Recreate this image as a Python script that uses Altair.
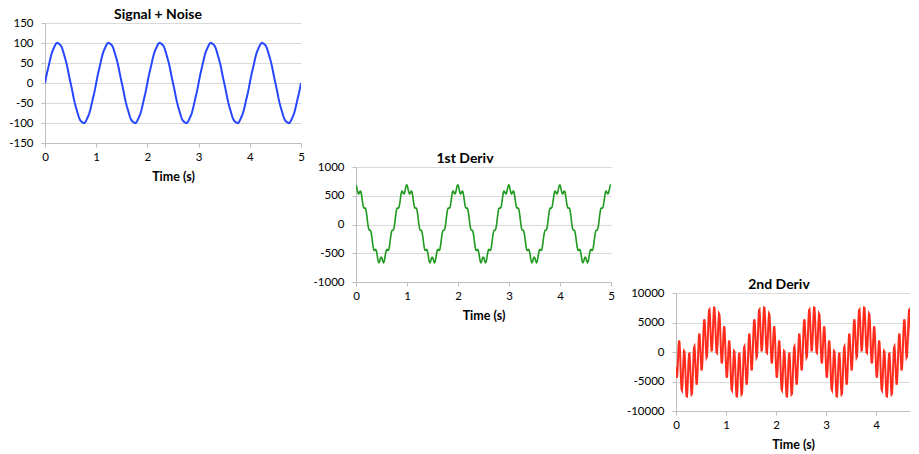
import altair as alt
import numpy as np
import pandas as pd

# ---------------- data ----------------
SIGNAL_DT = 0.02   # s between signal samples
DERIV_DT = 0.01    # s between derivative samples

SIGNAL = [
    0, 13.5, 25.5, 36.2, 47.2, 58.8, 69.4, 77.6, 83.8, 89.5, 95.1, 99.2, 100.4, 99.2, 97.3, 95.1, 91.4, 85.0, 76.5, 67.5, 58.8, 49.1, 37.4, 24.3, 11.6, 0, -11.6, -24.3, -37.4, -49.1, -58.8, -67.5, -76.5, -85.0, -91.4, -95.1, -97.3, -99.2, -100.4, -99.2, -95.1, -89.5, -83.8, -77.6, -69.4, -58.8, -47.2, -36.2, -25.5, -13.5,
    0, 13.5, 25.5, 36.2, 47.2, 58.8, 69.4, 77.6, 83.8, 89.5, 95.1, 99.2, 100.4, 99.2, 97.3, 95.1, 91.4, 85.0, 76.5, 67.5, 58.8, 49.1, 37.4, 24.3, 11.6, 0, -11.6, -24.3, -37.4, -49.1, -58.8, -67.5, -76.5, -85.0, -91.4, -95.1, -97.3, -99.2, -100.4, -99.2, -95.1, -89.5, -83.8, -77.6, -69.4, -58.8, -47.2, -36.2, -25.5, -13.5,
    0, 13.5, 25.5, 36.2, 47.2, 58.8, 69.4, 77.6, 83.8, 89.5, 95.1, 99.2, 100.4, 99.2, 97.3, 95.1, 91.4, 85.0, 76.5, 67.5, 58.8, 49.1, 37.4, 24.3, 11.6, 0, -11.6, -24.3, -37.4, -49.1, -58.8, -67.5, -76.5, -85.0, -91.4, -95.1, -97.3, -99.2, -100.4, -99.2, -95.1, -89.5, -83.8, -77.6, -69.4, -58.8, -47.2, -36.2, -25.5, -13.5,
    0, 13.5, 25.5, 36.2, 47.2, 58.8, 69.4, 77.6, 83.8, 89.5, 95.1, 99.2, 100.4, 99.2, 97.3, 95.1, 91.4, 85.0, 76.5, 67.5, 58.8, 49.1, 37.4, 24.3, 11.6, 0, -11.6, -24.3, -37.4, -49.1, -58.8, -67.5, -76.5, -85.0, -91.4, -95.1, -97.3, -99.2, -100.4, -99.2, -95.1, -89.5, -83.8, -77.6, -69.4, -58.8, -47.2, -36.2, -25.5, -13.5,
    0, 13.5, 25.5, 36.2, 47.2, 58.8, 69.4, 77.6, 83.8, 89.5, 95.1, 99.2, 100.4, 99.2, 97.3, 95.1, 91.4, 85.0, 76.5, 67.5, 58.8, 49.1, 37.4, 24.3, 11.6, 0, -11.6, -24.3, -37.4, -49.1, -58.8, -67.5, -76.5, -85.0, -91.4, -95.1, -97.3, -99.2, -100.4, -99.2, -95.1, -89.5, -83.8, -77.6, -69.4, -58.8, -47.2, -36.2, -25.5, -13.5,
    0,
]

DERIV1 = [
    686.8, 661.8, 620.6, 576.9, 544.6, 532.4, 540.3, 559.8, 577.1, 578.5, 555.3, 507.6, 444.3, 379.2, 326.3, 294.4, 283.5, 285.2, 285.8, 271.6,
    234.1, 173.4, 98.3, 22.8, -39.1, -78.5, -95.4, -98.3, -100.8, -116.5, -154.0, -213.2, -285.2, -356.1, -412.0, -443.9, -451.8, -444.3, -435.0, -437.7,
    -460.9, -504.5, -559.8, -612.9, -650.0, -662.2, -649.5, -620.6, -589.2, -569.2, -569.2, -589.2, -620.6, -649.5, -662.2, -650.0, -612.9, -559.8, -504.5, -460.9,
    -437.7, -435.0, -444.3, -451.8, -443.9, -412.0, -356.1, -285.2, -213.2, -154.0, -116.5, -100.8, -98.3, -95.4, -78.5, -39.1, 22.8, 98.3, 173.4, 234.1,
    271.6, 285.8, 285.2, 283.5, 294.4, 326.3, 379.2, 444.3, 507.6, 555.3, 578.5, 577.1, 559.8, 540.3, 532.4, 544.6, 576.9, 620.6, 661.8, 686.8,
    686.8, 661.8, 620.6, 576.9, 544.6, 532.4, 540.3, 559.8, 577.1, 578.5, 555.3, 507.6, 444.3, 379.2, 326.3, 294.4, 283.5, 285.2, 285.8, 271.6,
    234.1, 173.4, 98.3, 22.8, -39.1, -78.5, -95.4, -98.3, -100.8, -116.5, -154.0, -213.2, -285.2, -356.1, -412.0, -443.9, -451.8, -444.3, -435.0, -437.7,
    -460.9, -504.5, -559.8, -612.9, -650.0, -662.2, -649.5, -620.6, -589.2, -569.2, -569.2, -589.2, -620.6, -649.5, -662.2, -650.0, -612.9, -559.8, -504.5, -460.9,
    -437.7, -435.0, -444.3, -451.8, -443.9, -412.0, -356.1, -285.2, -213.2, -154.0, -116.5, -100.8, -98.3, -95.4, -78.5, -39.1, 22.8, 98.3, 173.4, 234.1,
    271.6, 285.8, 285.2, 283.5, 294.4, 326.3, 379.2, 444.3, 507.6, 555.3, 578.5, 577.1, 559.8, 540.3, 532.4, 544.6, 576.9, 620.6, 661.8, 686.8,
    686.8, 661.8, 620.6, 576.9, 544.6, 532.4, 540.3, 559.8, 577.1, 578.5, 555.3, 507.6, 444.3, 379.2, 326.3, 294.4, 283.5, 285.2, 285.8, 271.6,
    234.1, 173.4, 98.3, 22.8, -39.1, -78.5, -95.4, -98.3, -100.8, -116.5, -154.0, -213.2, -285.2, -356.1, -412.0, -443.9, -451.8, -444.3, -435.0, -437.7,
    -460.9, -504.5, -559.8, -612.9, -650.0, -662.2, -649.5, -620.6, -589.2, -569.2, -569.2, -589.2, -620.6, -649.5, -662.2, -650.0, -612.9, -559.8, -504.5, -460.9,
    -437.7, -435.0, -444.3, -451.8, -443.9, -412.0, -356.1, -285.2, -213.2, -154.0, -116.5, -100.8, -98.3, -95.4, -78.5, -39.1, 22.8, 98.3, 173.4, 234.1,
    271.6, 285.8, 285.2, 283.5, 294.4, 326.3, 379.2, 444.3, 507.6, 555.3, 578.5, 577.1, 559.8, 540.3, 532.4, 544.6, 576.9, 620.6, 661.8, 686.8,
    686.8, 661.8, 620.6, 576.9, 544.6, 532.4, 540.3, 559.8, 577.1, 578.5, 555.3, 507.6, 444.3, 379.2, 326.3, 294.4, 283.5, 285.2, 285.8, 271.6,
    234.1, 173.4, 98.3, 22.8, -39.1, -78.5, -95.4, -98.3, -100.8, -116.5, -154.0, -213.2, -285.2, -356.1, -412.0, -443.9, -451.8, -444.3, -435.0, -437.7,
    -460.9, -504.5, -559.8, -612.9, -650.0, -662.2, -649.5, -620.6, -589.2, -569.2, -569.2, -589.2, -620.6, -649.5, -662.2, -650.0, -612.9, -559.8, -504.5, -460.9,
    -437.7, -435.0, -444.3, -451.8, -443.9, -412.0, -356.1, -285.2, -213.2, -154.0, -116.5, -100.8, -98.3, -95.4, -78.5, -39.1, 22.8, 98.3, 173.4, 234.1,
    271.6, 285.8, 285.2, 283.5, 294.4, 326.3, 379.2, 444.3, 507.6, 555.3, 578.5, 577.1, 559.8, 540.3, 532.4, 544.6, 576.9, 620.6, 661.8, 686.8,
    686.8, 661.8, 620.6, 576.9, 544.6, 532.4, 540.3, 559.8, 577.1, 578.5, 555.3, 507.6, 444.3, 379.2, 326.3, 294.4, 283.5, 285.2, 285.8, 271.6,
    234.1, 173.4, 98.3, 22.8, -39.1, -78.5, -95.4, -98.3, -100.8, -116.5, -154.0, -213.2, -285.2, -356.1, -412.0, -443.9, -451.8, -444.3, -435.0, -437.7,
    -460.9, -504.5, -559.8, -612.9, -650.0, -662.2, -649.5, -620.6, -589.2, -569.2, -569.2, -589.2, -620.6, -649.5, -662.2, -650.0, -612.9, -559.8, -504.5, -460.9,
    -437.7, -435.0, -444.3, -451.8, -443.9, -412.0, -356.1, -285.2, -213.2, -154.0, -116.5, -100.8, -98.3, -95.4, -78.5, -39.1, 22.8, 98.3, 173.4, 234.1,
    271.6, 285.8, 285.2, 283.5, 294.4, 326.3, 379.2, 444.3, 507.6, 555.3, 578.5, 577.1, 559.8, 540.3, 532.4, 544.6, 576.9, 620.6, 661.8, 686.8,
    686.8,
]

DERIV2 = [
    -2500, -4120, -4370, -3230, -1220, 790, 1950, 1730, 140, -2320, -4770, -6330, -6510, -5290, -3190, -1090, 170, 60, -1420, -3750,
    -6070, -7510, -7550, -6190, -3940, -1690, -290, -250, -1570, -3750, -5920, -7200, -7090, -5590, -3190, -790, 750, 930, -270, -2320,
    -4360, -5530, -5310, -3710, -1220, 1270, 2890, 3140, 2000, 0, -2000, -3140, -2890, -1270, 1220, 3710, 5310, 5530, 4360, 2320,
    270, -930, -750, 790, 3190, 5590, 7090, 7200, 5920, 3750, 1570, 250, 290, 1690, 3940, 6190, 7550, 7510, 6070, 3750,
    1420, -60, -170, 1090, 3190, 5290, 6510, 6330, 4770, 2320, -140, -1730, -1950, -790, 1220, 3230, 4370, 4120, 2500, 0,
    -2500, -4120, -4370, -3230, -1220, 790, 1950, 1730, 140, -2320, -4770, -6330, -6510, -5290, -3190, -1090, 170, 60, -1420, -3750,
    -6070, -7510, -7550, -6190, -3940, -1690, -290, -250, -1570, -3750, -5920, -7200, -7090, -5590, -3190, -790, 750, 930, -270, -2320,
    -4360, -5530, -5310, -3710, -1220, 1270, 2890, 3140, 2000, 0, -2000, -3140, -2890, -1270, 1220, 3710, 5310, 5530, 4360, 2320,
    270, -930, -750, 790, 3190, 5590, 7090, 7200, 5920, 3750, 1570, 250, 290, 1690, 3940, 6190, 7550, 7510, 6070, 3750,
    1420, -60, -170, 1090, 3190, 5290, 6510, 6330, 4770, 2320, -140, -1730, -1950, -790, 1220, 3230, 4370, 4120, 2500, 0,
    -2500, -4120, -4370, -3230, -1220, 790, 1950, 1730, 140, -2320, -4770, -6330, -6510, -5290, -3190, -1090, 170, 60, -1420, -3750,
    -6070, -7510, -7550, -6190, -3940, -1690, -290, -250, -1570, -3750, -5920, -7200, -7090, -5590, -3190, -790, 750, 930, -270, -2320,
    -4360, -5530, -5310, -3710, -1220, 1270, 2890, 3140, 2000, 0, -2000, -3140, -2890, -1270, 1220, 3710, 5310, 5530, 4360, 2320,
    270, -930, -750, 790, 3190, 5590, 7090, 7200, 5920, 3750, 1570, 250, 290, 1690, 3940, 6190, 7550, 7510, 6070, 3750,
    1420, -60, -170, 1090, 3190, 5290, 6510, 6330, 4770, 2320, -140, -1730, -1950, -790, 1220, 3230, 4370, 4120, 2500, 0,
    -2500, -4120, -4370, -3230, -1220, 790, 1950, 1730, 140, -2320, -4770, -6330, -6510, -5290, -3190, -1090, 170, 60, -1420, -3750,
    -6070, -7510, -7550, -6190, -3940, -1690, -290, -250, -1570, -3750, -5920, -7200, -7090, -5590, -3190, -790, 750, 930, -270, -2320,
    -4360, -5530, -5310, -3710, -1220, 1270, 2890, 3140, 2000, 0, -2000, -3140, -2890, -1270, 1220, 3710, 5310, 5530, 4360, 2320,
    270, -930, -750, 790, 3190, 5590, 7090, 7200, 5920, 3750, 1570, 250, 290, 1690, 3940, 6190, 7550, 7510, 6070, 3750,
    1420, -60, -170, 1090, 3190, 5290, 6510, 6330, 4770, 2320, -140, -1730, -1950, -790, 1220, 3230, 4370, 4120, 2500, 0,
    -2500, -4120, -4370, -3230, -1220, 790, 1950, 1730, 140, -2320, -4770, -6330, -6510, -5290, -3190, -1090, 170, 60, -1420, -3750,
    -6070, -7510, -7550, -6190, -3940, -1690, -290, -250, -1570, -3750, -5920, -7200, -7090, -5590, -3190, -790, 750, 930, -270, -2320,
    -4360, -5530, -5310, -3710, -1220, 1270, 2890, 3140, 2000, 0, -2000, -3140, -2890, -1270, 1220, 3710, 5310, 5530, 4360, 2320,
    270, -930, -750, 790, 3190, 5590, 7090, 7200, 5920, 3750, 1570, 250, 290, 1690, 3940, 6190, 7550, 7510, 6070, 3750,
    1420, -60, -170, 1090, 3190, 5290, 6510, 6330, 4770, 2320, -140, -1730, -1950, -790, 1220, 3230, 4370, 4120, 2500, 0,
]

TITLES = ["Signal + Noise", "1st Deriv", "2nd Deriv"]
X_TITLE = "Time (s)"
X_TICKS = [0, 1, 2, 3, 4, 5]
Y_TICKS = [
    [-150, -100, -50, 0, 50, 100, 150],
    [-1000, -500, 0, 500, 1000],
    [-10000, -5000, 0, 5000, 10000],
]
COLORS = ["#2747ff", "#1f9a1f", "#ff2b1c"]

FONT = "Lato"
AXIS_GREY = "#bfbfbf"
GRID_GREY = "#d9d9d9"


def frame(values, dt):
    t = np.round(np.arange(len(values)) * dt, 4)
    return pd.DataFrame({"t": t, "v": values})


def panel(df, title, color, yticks, width, height, lw, xmax, title_x):
    line = (
        alt.Chart(df)
        .mark_line(color=color, strokeWidth=lw, clip=True)
        .encode(
            x=alt.X("t:Q",
                    scale=alt.Scale(domain=[0, xmax], nice=False, zero=False),
                    axis=alt.Axis(values=[v for v in X_TICKS if v <= xmax],
                                  title=X_TITLE, grid=False,
                                  labelExpr="'' + datum.value", labelFlush=False,
                                  labelPadding=4, titlePadding=8)),
            y=alt.Y("v:Q",
                    scale=alt.Scale(domain=[yticks[0], yticks[-1]], nice=False),
                    axis=alt.Axis(values=yticks, title=None, grid=True,
                                  labelExpr="'' + datum.value",
                                  labelPadding=8)),
        )
    )
    head = (
        alt.Chart(pd.DataFrame({"title": [title]}))
        .mark_text(font=FONT, fontSize=14, fontWeight="bold", color="black",
                   align="center", baseline="alphabetic")
        .encode(text="title:N", x=alt.value(title_x), y=alt.value(-4))
    )
    return alt.layer(line, head).properties(width=width, height=height)


def spacer(h):
    return (
        alt.Chart(pd.DataFrame({"v": [0]}))
        .mark_point(opacity=0, size=1)
        .encode(x=alt.value(0), y=alt.value(0))
        .properties(width=1, height=h)
    )


p1 = panel(frame(SIGNAL, SIGNAL_DT), TITLES[0], COLORS[0], Y_TICKS[0], 256, 120, 2, 5, 113)
p2 = panel(frame(DERIV1, DERIV_DT), TITLES[1], COLORS[1], Y_TICKS[1], 255, 115, 1.6, 5, 109)
p3 = panel(frame(DERIV2, DERIV_DT), TITLES[2], COLORS[2], Y_TICKS[2], 234, 118, 2, 4.68, 103)

chart = (
    alt.hconcat(
        alt.hconcat(p1, alt.vconcat(spacer(129), p2, spacing=0), spacing=8),
        alt.vconcat(spacer(255), p3, spacing=0),
        spacing=11,
    )
    .properties(padding=0, background="white")
    .configure_view(stroke=None)
    .configure_axis(
        domainColor=AXIS_GREY, tickColor=AXIS_GREY, gridColor=GRID_GREY,
        tickSize=4, domainWidth=1, gridWidth=1,
        labelFont=FONT, labelFontSize=11.5, labelColor="black",
        titleFont=FONT, titleFontSize=12.5, titleFontWeight="bold", titleColor="black",
    )
)

chart.save("out.html", embed_options={"renderer": "svg", "actions": False})
